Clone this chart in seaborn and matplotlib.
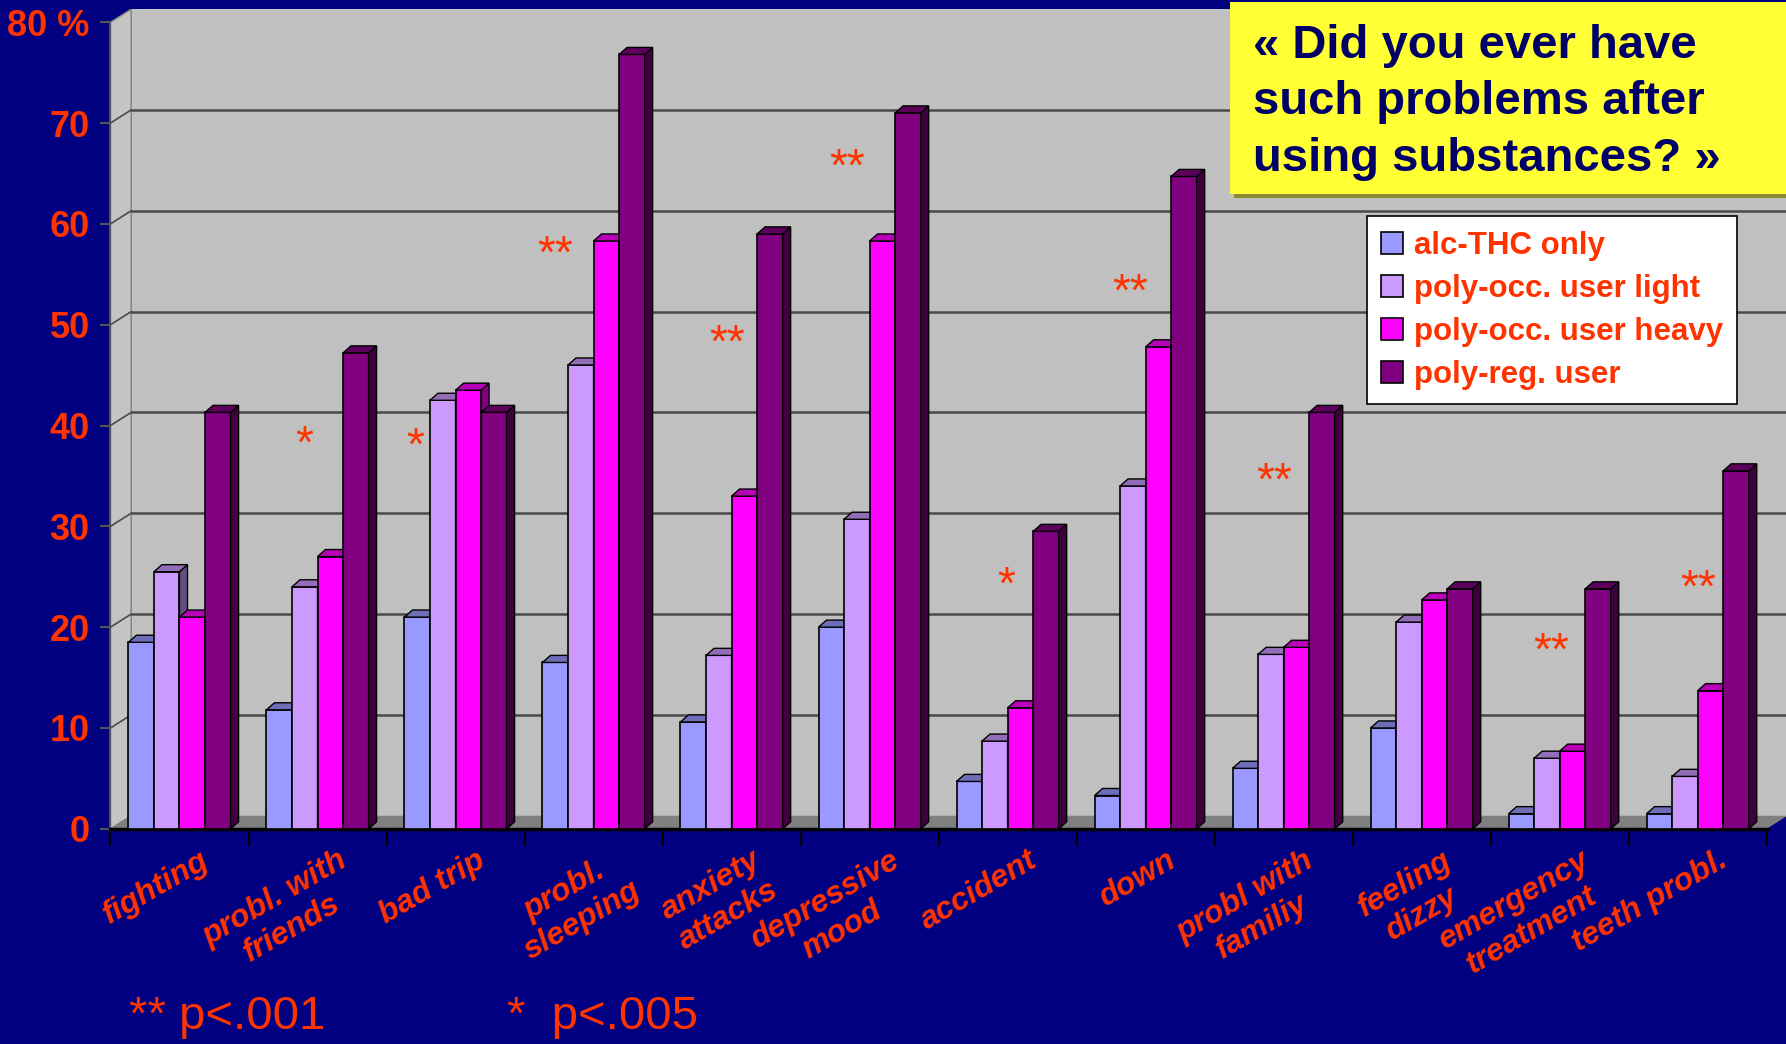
import numpy as np
import pandas as pd
import seaborn as sns
import matplotlib.pyplot as plt
from matplotlib.patches import Polygon, Rectangle, Patch
from matplotlib.transforms import ScaledTranslation

# Data
problems = ["fighting", "probl. with\nfriends", "bad trip", "probl.\nsleeping",
            "anxiety\nattacks", "depressive\nmood", "accident", "down",
            "probl with\nfamiliy", "feeling\ndizzy", "emergency\ntreatment", "teeth probl."]
groups = ["alc-THC only", "poly-occ. user light", "poly-occ. user heavy", "poly-reg. user"]

alc_thc = [18.5, 11.8, 21.0, 16.5, 10.6, 20.0, 4.7, 3.3, 6.0, 10.0, 1.5, 1.5]
poly_light = [25.5, 24.0, 42.5, 46.0, 17.2, 30.7, 8.7, 34.0, 17.3, 20.5, 7.0, 5.2]
poly_heavy = [21.0, 27.0, 43.5, 58.3, 33.0, 58.3, 12.0, 47.8, 18.0, 22.7, 7.7, 13.7]
poly_reg = [41.3, 47.2, 41.3, 76.8, 59.0, 71.0, 29.5, 64.7, 41.3, 23.8, 23.8, 35.5]

stars = ["", "*", "*", "**", "**", "**", "*", "**", "**", "", "**", "**"]
star_level = [None, 38.9, 38.7, 57.7, 48.9, 66.4, 24.9, 54.0, 35.2, None, 18.4, 24.6]
# horizontal nudge of each star label (category units), as placed on the slide
star_dx = [0, -0.10, -0.29, -0.28, -0.03, -0.16, -0.01, -0.11, -0.07, 0, -0.06, 0.0]

yticks = [0, 10, 20, 30, 40, 50, 60, 70, 80]
ytick_labels = ["0", "10", "20", "30", "40", "50", "60", "70", "80 %"]

df = pd.DataFrame({
    "problem": np.repeat(problems, 4),
    "group": groups * len(problems),
    "pct": np.column_stack([alc_thc, poly_light, poly_heavy, poly_reg]).ravel(),
})

# Style
navy = "#000080"
red = "#FF3300"
bar_colors = ["#9999FF", "#CC99FF", "#FF00FF", "#800080"]

sns.set_style("white")
plt.rcParams["font.family"] = ["Liberation Sans", "DejaVu Sans"]

fig = plt.figure(figsize=(17.86, 10.44), dpi=100, facecolor=navy)
ax = fig.add_axes([97 / 1568, 1 - 728 / 917, 1 - 97 / 1568, 720 / 917])
ax.set_facecolor(navy)

sns.barplot(data=df, x="problem", y="pct", hue="group", order=problems, hue_order=groups,
            palette=bar_colors, saturation=1, edgecolor="black", linewidth=1.2, width=0.74,
            gap=0, errorbar=None, legend=False, ax=ax)

# 3D box: back wall, side wall, floor
wdx, wdy = 0.15, 1.3
xmax = 11.64
ax.add_patch(Rectangle((-0.5 + wdx, wdy), 20, 80, facecolor="#C0C0C0", edgecolor="none", zorder=0))
ax.add_patch(Polygon([(-0.5, 0), (-0.5 + wdx, wdy), (-0.5 + wdx, 80 + wdy), (-0.5, 80)],
                     closed=True, facecolor="#C4C4C4", edgecolor="#808080", lw=1, zorder=0.5))
ax.add_patch(Polygon([(-0.5, 0), (11.5, 0), (11.5 + wdx, wdy), (-0.5 + wdx, wdy)],
                     closed=True, facecolor="#808080", edgecolor="none", zorder=0.6))
for t in yticks[1:-1]:
    ax.plot([-0.5 + wdx, xmax], [t + wdy, t + wdy], color="#4a4a4a", lw=1.8, zorder=0.7)
    ax.plot([-0.5, -0.5 + wdx], [t, t + wdy], color="#4a4a4a", lw=1.2, zorder=0.7)

# 3D faces of the bars
dx, dy = 0.058, 0.7
for k, cont in enumerate(ax.containers):
    base = np.array(plt.matplotlib.colors.to_rgb(bar_colors[k]))
    for bar in cont:
        bar.set_zorder(3 + k)
        x0, w, h = bar.get_x(), bar.get_width(), bar.get_height()
        side = Polygon([(x0 + w, 0), (x0 + w + dx, dy), (x0 + w + dx, h + dy), (x0 + w, h)],
                       closed=True, facecolor=base * 0.5, edgecolor="black", lw=1, zorder=3 + k)
        top = Polygon([(x0, h), (x0 + dx, h + dy), (x0 + w + dx, h + dy), (x0 + w, h)],
                      closed=True, facecolor=base * 0.72, edgecolor="black", lw=1, zorder=3 + k)
        ax.add_patch(side)
        ax.add_patch(top)

# Significance stars
star_shift = ScaledTranslation(0, -0.09, fig.dpi_scale_trans)
for i, (s, lvl) in enumerate(zip(stars, star_level)):
    if s:
        ax.text(i + star_dx[i], lvl, s, ha="center", va="center", fontsize=33, color=red,
                transform=ax.transData + star_shift, zorder=10)

# Axes
ax.set_xlim(-0.5, xmax)
ax.set_ylim(0, 80 + wdy)
for side_name in ["top", "right"]:
    ax.spines[side_name].set_visible(False)
ax.spines["left"].set_bounds(0, 80)
ax.spines["left"].set_color("#555555")
ax.spines["left"].set_linewidth(1.5)
ax.spines["bottom"].set_bounds(-0.5, 11.5)
ax.spines["bottom"].set_color("black")
ax.spines["bottom"].set_linewidth(2.5)

ax.set_yticks(yticks, ytick_labels)
ax.tick_params(axis="y", left=True, length=7, width=1.5, color="#555555", labelcolor=red,
               labelsize=26, pad=8)
for lab in ax.get_yticklabels():
    lab.set_fontweight("bold")

ax.set_xticks(range(len(problems)), problems)
ax.set_xticks(np.arange(-0.5, 12, 1), minor=True)
ax.tick_params(axis="x", which="major", length=0, labelcolor=red, labelsize=23, pad=12)
ax.tick_params(axis="x", which="minor", bottom=True, length=12, width=1.5, color="black")
lab_shift = ScaledTranslation(0.2, 0, fig.dpi_scale_trans)
for lab in ax.get_xticklabels():
    lab.set_rotation(30)
    lab.set_ha("right")
    lab.set_va("top")
    lab.set_rotation_mode("anchor")
    lab.set_multialignment("center")
    lab.set_fontweight("bold")
    lab.set_fontstyle("italic")
    lab.set_transform(lab.get_transform() + lab_shift)
ax.set_xlabel("")
ax.set_ylabel("")

# Legend
handles = [Patch(facecolor=c, edgecolor="black", lw=1.2) for c in bar_colors]
leg = ax.legend(handles, groups, loc="upper left", bbox_to_anchor=(0.750, 0.747),
                borderaxespad=0, frameon=True, facecolor="white", edgecolor="black",
                fancybox=False, framealpha=1, prop=dict(weight="bold", size=22.5),
                labelcolor=red, handlelength=0.7, handleheight=0.7, handletextpad=0.35,
                borderpad=0.45, labelspacing=0.42)
leg.get_frame().set_linewidth(1.2)
leg.set_zorder(20)

# Question box
fig.patches.append(Rectangle((1083 / 1568, 1 - 174 / 917), 0.33, 172 / 917, transform=fig.transFigure,
                             facecolor="#8C8C30", edgecolor="none", zorder=5))
fig.patches.append(Rectangle((1080 / 1568, 1 - 170 / 917), 0.33, 168 / 917, transform=fig.transFigure,
                             facecolor="#FFFF33", edgecolor="none", zorder=5.5))
fig.text(1100 / 1568, 1 - 90 / 917, "« Did you ever have\nsuch problems after\nusing substances? »",
         ha="left", va="center", fontsize=34, fontweight="bold", color="#000066",
         linespacing=1.36, zorder=6)

# Footnote
foot = dict(fontsize=34, color=red, va="center",
            family=["Liberation Sans Narrow", "Liberation Sans", "DejaVu Sans"])
fig.text(113 / 1568, 1 - 893 / 917, "** p<.001", **foot)
fig.text(445 / 1568, 1 - 893 / 917, "*  p<.005", **foot)

fig.savefig("out.png", dpi=100, facecolor=navy)
